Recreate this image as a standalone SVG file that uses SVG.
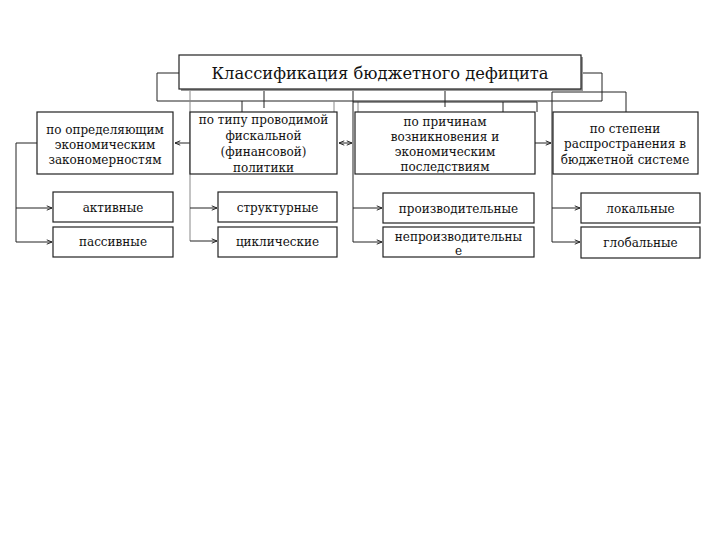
<svg xmlns="http://www.w3.org/2000/svg" width="720" height="540" viewBox="0 0 720 540">
<style>
.box{fill:#fff;stroke:#222;stroke-width:1.2}
.sh{fill:#999}
.t{font-family:"DejaVu Serif","Liberation Serif",serif;font-size:12px;fill:#111;text-anchor:middle}
.title{font-family:"DejaVu Serif","Liberation Serif",serif;font-size:16.3px;fill:#111;text-anchor:middle}
.c{fill:none;stroke:#222;stroke-width:1}
.g{fill:none;stroke:#888;stroke-width:1}
.gt{fill:none;stroke:#777;stroke-width:2.2}
</style>
<defs>
<marker id="a" viewBox="0 0 8 8" refX="7" refY="4" markerWidth="7" markerHeight="7" markerUnits="userSpaceOnUse" orient="auto">
<path d="M1,1.5 L7,4 L1,6.5" fill="none" stroke="#222" stroke-width="1.1"/>
</marker>
<marker id="as" viewBox="0 0 8 8" refX="1" refY="4" markerWidth="7" markerHeight="7" markerUnits="userSpaceOnUse" orient="auto">
<path d="M7,1.5 L1,4 L7,6.5" fill="none" stroke="#222" stroke-width="1.1"/>
</marker>
</defs>
<rect width="720" height="540" fill="#fff"/>
<g id="connectors">
<polyline class="c" points="179,73 157,73 157,101 602,101 602,73 581,73"/>
<polyline class="c" points="264,89 264,108"/>
<polyline class="c" points="242,101 242,143 175,143" marker-end="url(#a)"/>
<polyline class="g" points="334,101 334,143"/>
<polyline class="g" points="358,101 358,143"/>
<line class="c" x1="339" y1="143" x2="352" y2="143" marker-start="url(#as)" marker-end="url(#a)"/>
<polyline class="c" points="445,89 445,107"/>
<polyline class="c" points="503,102 503,143 551,143" marker-end="url(#a)"/>
<polyline class="c" points="353,102 537,102 537,112"/>
<polyline class="c" points="552,242 552,92 626,92 626,112"/>
<polyline class="c" points="353,89 353,242"/>
<polyline class="g" points="190,89 190,241"/>
<line class="gt" x1="190" y1="89" x2="264" y2="89"/>
<line class="gt" x1="353" y1="89" x2="445" y2="89"/>
<polyline class="c" points="37,143 16,143 16,242"/>
<line class="c" x1="16" y1="208" x2="52" y2="208" marker-end="url(#a)"/>
<line class="c" x1="16" y1="242" x2="52" y2="242" marker-end="url(#a)"/>
<line class="c" x1="190" y1="208" x2="217" y2="208" marker-end="url(#a)"/>
<line class="c" x1="190" y1="241" x2="217" y2="241" marker-end="url(#a)"/>
<line class="c" x1="353" y1="208" x2="382" y2="208" marker-end="url(#a)"/>
<line class="c" x1="353" y1="242" x2="382" y2="242" marker-end="url(#a)"/>
<line class="c" x1="552" y1="208" x2="580" y2="208" marker-end="url(#a)"/>
<line class="c" x1="552" y1="242" x2="580" y2="242" marker-end="url(#a)"/>
</g>
<g id="title">
<rect class="sh" x="181" y="57" width="402" height="34"/>
<rect class="box" x="179" y="55" width="402" height="34"/>
<text class="title" x="380" y="79">Классификация бюджетного дефицита</text>
</g>
<g id="n1">
<rect class="box" x="37" y="112" width="136" height="62"/>
<text class="t" x="105" y="134">по определяющим</text>
<text class="t" x="105" y="149">экономическим</text>
<text class="t" x="105" y="164">закономерностям</text>
</g>
<g id="n2">
<rect class="box" x="190" y="112" width="147" height="62"/>
<text class="t" x="263.5" y="124">по типу проводимой</text>
<text class="t" x="263.5" y="140">фискальной</text>
<text class="t" x="263.5" y="156">(финансовой)</text>
<text class="t" x="263.5" y="172">политики</text>
</g>
<g id="n3">
<rect class="box" x="355" y="112" width="180" height="62"/>
<text class="t" x="445" y="126">по причинам</text>
<text class="t" x="445" y="141">возникновения и</text>
<text class="t" x="445" y="156">экономическим</text>
<text class="t" x="445" y="171">последствиям</text>
</g>
<g id="n4">
<rect class="box" x="553" y="112" width="145" height="62"/>
<text class="t" x="625" y="133">по степени</text>
<text class="t" x="625" y="148">распространения в</text>
<text class="t" x="625" y="164">бюджетной системе</text>
</g>
<g id="c1"><rect class="box" x="53" y="192" width="120" height="30"/><text class="t" x="113" y="212">активные</text></g>
<g id="c2"><rect class="box" x="53" y="227" width="120" height="30"/><text class="t" x="113" y="246">пассивные</text></g>
<g id="c3"><rect class="box" x="218" y="192" width="119" height="30"/><text class="t" x="277.5" y="212">структурные</text></g>
<g id="c4"><rect class="box" x="218" y="227" width="119" height="30"/><text class="t" x="277.5" y="246">циклические</text></g>
<g id="c5"><rect class="box" x="383" y="193" width="151" height="30"/><text class="t" x="458.5" y="213">производительные</text></g>
<g id="c6"><rect class="box" x="383" y="227" width="151" height="30"/><text class="t" x="458.5" y="241">непроизводительны</text><text class="t" x="458.5" y="255">е</text></g>
<g id="c7"><rect class="box" x="581" y="193" width="119" height="30"/><text class="t" x="640.5" y="213">локальные</text></g>
<g id="c8"><rect class="box" x="581" y="227" width="119" height="31"/><text class="t" x="640.5" y="247">глобальные</text></g>
</svg>
